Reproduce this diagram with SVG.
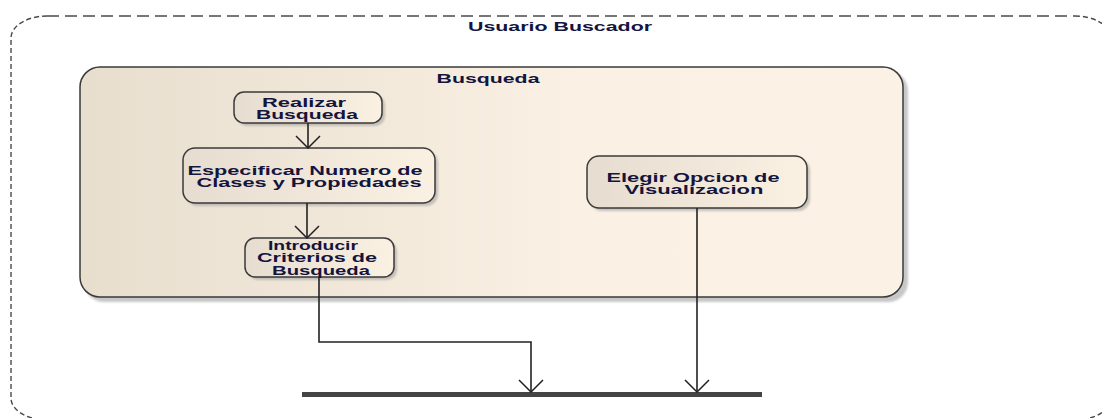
<svg xmlns="http://www.w3.org/2000/svg" width="1102" height="418" viewBox="0 0 1102 418">
  <style>
    .lbl { font-family: "Liberation Sans", Arial, sans-serif; font-weight: bold; font-size: 12.5px; fill: #14143c; text-anchor: middle; }
    .node { fill: url(#nodeFill); stroke: #3a3a3a; stroke-width: 1.5; }
    .shadow { fill: #9a9a9a; opacity: 0.55; filter: url(#soft); }
    .flow { fill: none; stroke: #222; stroke-width: 1.6; }
    .lane { fill: none; stroke: #4a4a4a; stroke-width: 1.4; }
  </style>
  <defs>
    <linearGradient id="nodeFill" x1="0" y1="0" x2="1" y2="0">
      <stop offset="0" stop-color="#e6dccf"/>
      <stop offset="1" stop-color="#fbf1e3"/>
    </linearGradient>
    <linearGradient id="partFill" x1="0" y1="0" x2="1" y2="0">
      <stop offset="0" stop-color="#e8dece"/>
      <stop offset="0.6" stop-color="#faf0e3"/>
      <stop offset="1" stop-color="#fbf1e4"/>
    </linearGradient>
    <filter id="soft" x="-10%" y="-10%" width="120%" height="130%">
      <feGaussianBlur stdDeviation="1.2"/>
    </filter>
    <!-- open V arrowhead, drawn along +x so orient="auto" points it down the flow -->
    <marker id="open" viewBox="0 0 14 26" refX="13" refY="13" markerWidth="14" markerHeight="26" markerUnits="userSpaceOnUse" orient="auto">
      <path d="M1,1 L13,13 L1,25" fill="none" stroke="#222" stroke-width="1.5"/>
    </marker>
  </defs>

  <!-- swimlane boundary: Usuario Buscador -->
  <g id="usuario-buscador">
    <path class="lane" d="M47,16 H1075" stroke-dasharray="12,6"/>
    <path class="lane" d="M47,16 A36,22 0 0 0 11,38 V398 A36,22 0 0 0 47,420" stroke-dasharray="5,3"/>
    <path class="lane" d="M1075,16 A36,22 0 0 1 1111,38 V398 A36,22 0 0 1 1075,420" stroke-dasharray="5,3"/>
    <text class="lbl" x="560" y="31" textLength="184" lengthAdjust="spacingAndGlyphs">Usuario Buscador</text>
  </g>

  <!-- partition: Busqueda -->
  <g id="busqueda">
    <rect class="shadow" x="84" y="71" width="824" height="231" rx="20"/>
    <rect x="80" y="67" width="823" height="230" rx="20" fill="url(#partFill)" stroke="#3a3a3a" stroke-width="1.5"/>
    <text class="lbl" x="488" y="83" textLength="103" lengthAdjust="spacingAndGlyphs">Busqueda</text>
  </g>

  <g id="realizar-busqueda">
    <rect class="shadow" x="237" y="95" width="148" height="31" rx="10"/>
    <rect class="node" x="234" y="92" width="148" height="31" rx="10"/>
    <text class="lbl" x="304" y="107" textLength="84" lengthAdjust="spacingAndGlyphs">Realizar</text>
    <text class="lbl" x="307" y="119" textLength="102" lengthAdjust="spacingAndGlyphs">Busqueda</text>
  </g>

  <g id="especificar-numero">
    <rect class="shadow" x="186" y="151" width="252" height="55" rx="12"/>
    <rect class="node" x="183" y="148" width="252" height="55" rx="12"/>
    <text class="lbl" x="305" y="175" textLength="235" lengthAdjust="spacingAndGlyphs">Especificar Numero de</text>
    <text class="lbl" x="309" y="187" textLength="225" lengthAdjust="spacingAndGlyphs">Clases y Propiedades</text>
  </g>

  <g id="introducir-criterios">
    <rect class="shadow" x="248" y="241" width="149" height="39" rx="10"/>
    <rect class="node" x="245" y="238" width="149" height="39" rx="10"/>
    <text class="lbl" x="313" y="250" textLength="90" lengthAdjust="spacingAndGlyphs">Introducir</text>
    <text class="lbl" x="317" y="262" textLength="120" lengthAdjust="spacingAndGlyphs">Criterios de</text>
    <text class="lbl" x="321" y="275" textLength="98" lengthAdjust="spacingAndGlyphs">Busqueda</text>
  </g>

  <g id="elegir-opcion">
    <rect class="shadow" x="590" y="159" width="220" height="52" rx="12"/>
    <rect class="node" x="587" y="156" width="220" height="52" rx="12"/>
    <text class="lbl" x="693" y="182" textLength="173" lengthAdjust="spacingAndGlyphs">Elegir Opcion de</text>
    <text class="lbl" x="694" y="194" textLength="139" lengthAdjust="spacingAndGlyphs">Visualizacion</text>
  </g>

  <!-- join bar -->
  <g id="join-bar">
    <rect x="302" y="392" width="460" height="5" fill="#444"/>
  </g>

  <!-- control flows -->
  <g id="connectors">
    <path class="flow" d="M308,123 L308,148" marker-end="url(#open)"/>
    <path class="flow" d="M307,203 L307,238" marker-end="url(#open)"/>
    <path class="flow" d="M319,277 L319,342 L531,342 L531,392" marker-end="url(#open)"/>
    <path class="flow" d="M697,208 L697,392" marker-end="url(#open)"/>
  </g>
</svg>
